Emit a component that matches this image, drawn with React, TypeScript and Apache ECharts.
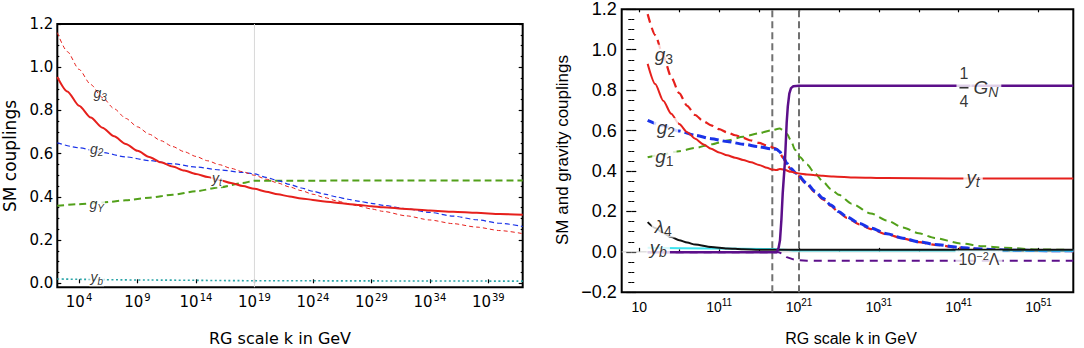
import React, { useEffect, useRef } from 'react';
import * as echarts from 'echarts';

// x values are log10(k / GeV)
// ---------- left panel ----------
const LEFT_X_TICKS = [4, 9, 14, 19, 24, 29, 34, 39];
const LEFT_Y_TICKS = [0, 0.2, 0.4, 0.6, 0.8, 1.0, 1.2];
const LEFT_Y_MINOR = [0.05, 0.1, 0.15, 0.25, 0.3, 0.35, 0.45, 0.5, 0.55, 0.65, 0.7, 0.75, 0.85, 0.9, 0.95, 1.05, 1.1, 1.15];
const LEFT_PLANCK: [number, number][] = [[19, -0.0185], [19, 1.2]];

const LEFT_G3: [number, number][] = [
  [2.14, 1.16], [3, 1.072], [4, 0.99], [5, 0.92], [6, 0.86], [7, 0.808], [8, 0.763], [9, 0.724],
  [10, 0.69], [11, 0.66], [12, 0.633], [13, 0.609], [14, 0.587], [15, 0.567], [16, 0.549], [17, 0.532],
  [18, 0.516], [19, 0.5], [20, 0.482], [21, 0.464], [22, 0.446], [23, 0.429], [24, 0.412], [25, 0.397],
  [26, 0.382], [27, 0.369], [28, 0.356], [29, 0.344], [30, 0.333], [32, 0.312], [34, 0.293], [36, 0.276],
  [38, 0.26], [40, 0.244], [41.94, 0.23],
];
const LEFT_YT: [number, number][] = [
  [2.14, 0.955], [3, 0.888], [4, 0.822], [5, 0.767], [6, 0.72], [7, 0.68], [8, 0.645], [9, 0.613],
  [10, 0.585], [11, 0.56], [12, 0.54], [13, 0.522], [14, 0.506], [15, 0.492], [16, 0.478], [17, 0.464],
  [18, 0.45], [19, 0.437], [20, 0.424], [21, 0.412], [22, 0.402], [23, 0.393], [24, 0.386], [25, 0.379],
  [26, 0.373], [27, 0.367], [28, 0.362], [29, 0.357], [30, 0.352], [32, 0.344], [34, 0.337], [36, 0.331],
  [38, 0.326], [40, 0.321], [41.94, 0.317],
];
const LEFT_G2: [number, number][] = [
  [2.14, 0.65], [4, 0.627], [6, 0.605], [8, 0.585], [10, 0.568], [12, 0.553], [14, 0.538], [16, 0.525],
  [18, 0.513], [19, 0.506], [20, 0.49], [21, 0.475], [22, 0.458], [23, 0.441], [24, 0.426], [25, 0.413],
  [26, 0.4], [27, 0.389], [28, 0.379], [29, 0.37], [30, 0.361], [32, 0.345], [34, 0.328], [36, 0.311],
  [38, 0.294], [40, 0.278], [41.94, 0.263],
];
const LEFT_GY: [number, number][] = [
  [2.14, 0.359], [4, 0.366], [6, 0.374], [8, 0.384], [10, 0.396], [12, 0.41], [14, 0.426], [16, 0.444],
  [18, 0.464], [19, 0.475], [41.94, 0.476],
];
const LEFT_YB: [number, number][] = [[2.14, 0.02], [10, 0.015], [19, 0.012], [30, 0.011], [41.94, 0.01]];

// ---------- right panel ----------
const RIGHT_X_TICKS = [1, 11, 21, 31, 41, 51];
const RIGHT_X_MINOR = [6, 16, 26, 36, 46];
const RIGHT_VLINE_A: [number, number][] = [[17.66, -0.2], [17.66, 1.2]];
const RIGHT_VLINE_B: [number, number][] = [[21, -0.2], [21, 1.2]];
const RIGHT_ZERO: [number, number][] = [[-1.2, 0], [55.35, 0]];

const RIGHT_G3: [number, number][] = [
  [2.05, 1.176], [3, 1.072], [4, 0.97], [5, 0.865], [6, 0.785], [7, 0.722], [8, 0.677], [9, 0.647],
  [10, 0.626], [11, 0.607], [12, 0.591], [13, 0.577], [14, 0.564], [15, 0.551], [16, 0.539], [17, 0.526],
  [18, 0.513], [18.5, 0.5], [19, 0.465], [19.5, 0.432], [20, 0.407], [20.7, 0.382], [22, 0.333], [23, 0.295],
  [24, 0.26], [25, 0.227], [26, 0.194], [27, 0.168], [28.6, 0.136], [30, 0.113], [32, 0.087], [34, 0.066],
  [36, 0.048], [38, 0.035], [41.2, 0.02], [43, 0.015], [45.3, 0.01], [48, 0.007], [52, 0.005], [55.35, 0.004],
];
const RIGHT_G2: [number, number][] = [
  [2.05, 0.651], [4, 0.624], [6, 0.598], [8, 0.577], [10, 0.56], [12, 0.546], [14, 0.533], [16, 0.52],
  [17.5, 0.51], [18.2, 0.508], [18.6, 0.495], [19, 0.47], [19.5, 0.437], [20, 0.412], [20.7, 0.387], [22, 0.338],
  [23, 0.3], [24, 0.265], [25, 0.232], [26, 0.198], [27, 0.172], [28.6, 0.14], [30, 0.117], [32, 0.09],
  [34, 0.068], [36, 0.05], [38, 0.037], [41.2, 0.022], [43, 0.016], [45.3, 0.011], [48, 0.008], [52, 0.006],
  [55.35, 0.005],
];
const RIGHT_G1: [number, number][] = [
  [2.05, 0.468], [4, 0.483], [6, 0.498], [8, 0.514], [10, 0.532], [12, 0.551], [14, 0.569], [16, 0.587],
  [17.5, 0.601], [18.6, 0.61], [19, 0.603], [19.5, 0.583], [20, 0.55], [20.5, 0.505], [21.1, 0.469], [22, 0.432],
  [23, 0.388], [24, 0.348], [25, 0.31], [26, 0.282], [27.6, 0.238], [30, 0.19], [32, 0.155],
  [34, 0.121], [36, 0.092], [38, 0.069], [41.2, 0.042], [44, 0.028], [46.6, 0.021], [50.8, 0.012], [55.35, 0.009],
];
const RIGHT_YT: [number, number][] = [
  [2.05, 0.93], [3, 0.83], [4, 0.748], [5, 0.683], [6, 0.632], [7, 0.592], [8, 0.56], [9, 0.533],
  [10, 0.51], [11, 0.492], [12, 0.478], [13, 0.466], [14, 0.455], [15, 0.443], [16, 0.43], [17, 0.416],
  [17.6, 0.407], [18.2, 0.405], [18.6, 0.41], [19.1, 0.407], [20, 0.396], [21, 0.388], [22, 0.383], [23, 0.379],
  [24, 0.376], [25.3, 0.373], [28, 0.368], [32, 0.365], [40, 0.363], [55.35, 0.363],
];
const RIGHT_L4: [number, number][] = [
  [2.05, 0.147], [3, 0.118], [4, 0.093], [5, 0.073], [6, 0.058], [7, 0.046], [8, 0.036], [10, 0.024],
  [12, 0.017], [14, 0.013], [16, 0.011], [18, 0.01], [55.35, 0.01],
];
const RIGHT_YB: [number, number][] = [[2.05, 0.02], [10, 0.017], [18, 0.014], [19, 0.01], [21, 0.007], [55.35, 0.006]];
const RIGHT_GN: [number, number][] = [
  [2.05, -0.002], [18.2, -0.002], [18.45, 0.02], [18.62, 0.057], [18.8, 0.16], [18.96, 0.288], [19.25, 0.453],
  [19.46, 0.64], [19.6, 0.72], [19.79, 0.783], [20, 0.81], [20.29, 0.819], [21, 0.822], [55.35, 0.822],
];
const RIGHT_LAMBDA: [number, number][] = [
  [2.05, -0.002], [18.5, -0.002], [19, -0.012], [19.46, -0.026], [20.29, -0.037], [21.1, -0.042], [22, -0.044],
  [55.35, -0.044],
];

// curve labels (data coordinates)
const LEFT_LABELS = [
  { x: 5.8, y: 0.875, text: '{i|g}{s|3}', bg: false },
  { x: 5.51, y: 0.617, text: '{i|g}{s|2}', bg: true },
  { x: 5.51, y: 0.362, text: '{i|g}{s|Y}', bg: true },
  { x: 5.51, y: 0.023, text: '{i|y}{s|b}', bg: true },
  { x: 15.78, y: 0.482, text: '{i|y}{s|t}', bg: true },
];
const RIGHT_LABELS = [
  { x: 4.09, y: 0.973, text: '{i|g}{s|3}' },
  { x: 4.34, y: 0.61, text: '{i|g}{s|2}' },
  { x: 4.15, y: 0.468, text: '{i|g}{s|1}' },
  { x: 4.0, y: 0.123, text: '{i|λ}{s|4}' },
  { x: 3.38, y: 0.016, text: '{i|y}{si|b}' },
  { x: 42.8, y: 0.362, text: '{i|y}{si|t}' },
  { x: 41.66, y: 0.812, text: '{f|1}\n{bar| }\n{f|4}' },
  { x: 44.4, y: 0.809, text: '{i|G}{si|N}' },
  { x: 43.54, y: -0.04, text: '{n|10}{sup|−2}{n|Λ}' },
];

const LX = { min: 2.14, max: 41.94 };
const LY = { min: -0.0185, max: 1.2 };
const RX = { min: -1.2, max: 55.35 };
const RY = { min: -0.2, max: 1.2 };

const SANS = 'Liberation Sans';
const DJV = 'DejaVu Sans';

function tickOnly(grid: number, pos: string, range: any, values: number[], len: number) {
  return {
    type: 'value', gridIndex: grid, position: pos, ...range,
    axisLine: { show: false }, splitLine: { show: false },
    axisLabel: { show: false },
    axisTick: { show: true, inside: true, length: len, customValues: values, lineStyle: { color: '#000', width: 1.2 } },
  };
}

function line(data: [number, number][], xi: number, yi: number, color: string, width: number, type: any, z = 2, smooth: any = 0.25) {
  return {
    type: 'line', data, xAxisIndex: xi, yAxisIndex: yi, showSymbol: false, symbol: 'none', smooth,
    smoothMonotone: 'x',
    lineStyle: { color, width, type, cap: 'butt' }, z, silent: true, animation: false,
  };
}

export default function App() {
  const ref = useRef<HTMLDivElement>(null);
  useEffect(() => {
    const chart = echarts.init(ref.current!, null, { renderer: 'svg' });
    const RED = '#e6201c';
    const BLUE = '#1a33e8';
    const GREEN = '#52a01a';
    const PURPLE = '#5c0f8a';

    const leftRich = {
      i: { fontFamily: SANS, fontStyle: 'italic', fontSize: 14, lineHeight: 16, verticalAlign: 'top', color: '#000' },
      s: { fontFamily: SANS, fontStyle: 'italic', fontSize: 10, lineHeight: 11, padding: [7, 0, 0, 0], verticalAlign: 'bottom', color: '#000' },
    };
    const rightRich = {
      i: { fontFamily: SANS, fontStyle: 'italic', fontSize: 19, lineHeight: 21, verticalAlign: 'top', color: '#000' },
      s: { fontFamily: SANS, fontSize: 14, lineHeight: 15, padding: [10, 0, 0, 0], verticalAlign: 'bottom', color: '#000' },
      si: { fontFamily: SANS, fontStyle: 'italic', fontSize: 14, lineHeight: 15, padding: [10, 0, 0, 0], verticalAlign: 'bottom', color: '#000' },
      f: { fontFamily: SANS, fontSize: 16, lineHeight: 18, color: '#000', align: 'center' },
      bar: { fontSize: 1, width: 9, height: 1.6, lineHeight: 10, backgroundColor: '#000', align: 'center' },
      n: { fontFamily: SANS, fontSize: 16, lineHeight: 19, color: '#000' },
      sup: { fontFamily: SANS, fontSize: 11, lineHeight: 11, verticalAlign: 'top', color: '#000' },
    };

    const option: any = {
      animation: false,
      grid: [
        { left: 57.3, top: 24, width: 465.4, height: 263.3, show: true, borderColor: '#000', borderWidth: 2, backgroundColor: 'transparent' },
        { left: 621.7, top: 9.3, width: 451.6, height: 283, show: true, borderColor: '#000', borderWidth: 2, backgroundColor: 'transparent' },
      ],
      xAxis: [
        {
          type: 'value', gridIndex: 0, position: 'bottom', ...LX,
          axisLine: { show: false }, splitLine: { show: false },
          axisTick: { show: true, inside: true, length: 4, customValues: LEFT_X_TICKS, lineStyle: { color: '#000', width: 1.2 } },
          axisLabel: {
            customValues: LEFT_X_TICKS, margin: 5,
            formatter: (v: number) => `{b|10}{s|${Math.round(v)}}`,
            rich: {
              b: { fontFamily: DJV, fontSize: 15, lineHeight: 19, color: '#000' },
              s: { fontFamily: DJV, fontSize: 10, lineHeight: 11, verticalAlign: 'top', color: '#000', padding: [0, 0, 0, 1] },
            },
          },
        },
        {
          type: 'value', gridIndex: 1, position: 'bottom', ...RX,
          axisLine: { show: false }, splitLine: { show: false },
          axisTick: { show: true, inside: true, length: 4, customValues: RIGHT_X_TICKS, lineStyle: { color: '#000', width: 1.2 } },
          axisLabel: {
            customValues: RIGHT_X_TICKS, margin: 5,
            formatter: (v: number) => (Math.round(v) === 1 ? '{b|10}' : `{b|10}{s|${Math.round(v)}}`),
            rich: {
              b: { fontFamily: SANS, fontSize: 14, lineHeight: 19, color: '#000' },
              s: { fontFamily: SANS, fontSize: 10, lineHeight: 11, verticalAlign: 'top', color: '#000' },
            },
          },
        },
        tickOnly(1, 'bottom', RX, RIGHT_X_MINOR, 2.5),
        tickOnly(1, 'top', RX, [...RIGHT_X_TICKS, ...RIGHT_X_MINOR], 3),
      ],
      yAxis: [
        {
          type: 'value', gridIndex: 0, position: 'left', ...LY,
          axisLine: { show: false }, splitLine: { show: false },
          axisTick: { show: true, inside: true, length: 4, customValues: LEFT_Y_TICKS, lineStyle: { color: '#000', width: 1.2 } },
          axisLabel: {
            customValues: LEFT_Y_TICKS, margin: 4,
            formatter: (v: number) => v.toFixed(1),
            fontFamily: DJV, fontSize: 15, color: '#000',
          },
        },
        tickOnly(0, 'left', LY, LEFT_Y_MINOR, 2),
        tickOnly(0, 'right', LY, LEFT_Y_TICKS, 4),
        tickOnly(0, 'right', LY, LEFT_Y_MINOR, 2),
        {
          type: 'value', gridIndex: 1, position: 'left', ...RY, interval: 0.2,
          axisLine: { show: false }, splitLine: { show: false },
          axisTick: { show: true, inside: true, length: 5, lineStyle: { color: '#000', width: 1.2 } },
          minorTick: { show: true, splitNumber: 4, length: 3, lineStyle: { color: '#000', width: 1 } },
          axisLabel: {
            margin: 5,
            formatter: (v: number) => v.toFixed(1).replace('-', '−'),
            fontFamily: SANS, fontSize: 18, color: '#000',
          },
        },
        {
          type: 'value', gridIndex: 1, position: 'right', ...RY, interval: 0.2,
          axisLine: { show: false }, splitLine: { show: false },
          axisTick: { show: true, inside: true, length: 5, lineStyle: { color: '#000', width: 1.2 } },
          minorTick: { show: true, splitNumber: 4, length: 3, lineStyle: { color: '#000', width: 1 } },
          axisLabel: { show: false },
        },
      ],
      series: [
        // left panel
        line(LEFT_PLANCK, 0, 0, '#d8d8d8', 1, 'solid', 1, false),
        line(LEFT_YB, 0, 0, '#2aa5a8', 1.6, [2, 2.5]),
        line(LEFT_GY, 0, 0, GREEN, 2, [7, 4]),
        line(LEFT_G2, 0, 0, BLUE, 1.2, [5, 3]),
        line(LEFT_G3, 0, 0, RED, 1, [4, 3]),
        line(LEFT_YT, 0, 0, RED, 2, 'solid'),
        {
          type: 'scatter', xAxisIndex: 0, yAxisIndex: 0, symbolSize: 1, itemStyle: { color: 'rgba(0,0,0,0)' }, z: 10, silent: true,
          data: LEFT_LABELS.map((l) => ({
            value: [l.x, l.y],
            label: {
              show: true, position: 'inside', formatter: l.text, rich: leftRich, color: '#000',
              backgroundColor: l.bg ? '#fff' : 'transparent', padding: [0, 1],
            },
          })),
        },
        // right panel
        line(RIGHT_ZERO, 1, 4, '#cfcfcf', 1, 'solid', 1, false),
        line(RIGHT_VLINE_A, 1, 4, '#707070', 2, [7, 4], 1, false),
        line(RIGHT_VLINE_B, 1, 4, '#707070', 2, [7, 4], 1, false),
        line(RIGHT_G1, 1, 4, GREEN, 2, [8, 5]),
        line(RIGHT_G3, 1, 4, RED, 2.2, [9, 5]),
        line(RIGHT_G2, 1, 4, BLUE, 3, [9, 4]),
        line(RIGHT_YT, 1, 4, RED, 2, 'solid'),
        line(RIGHT_YB, 1, 4, '#3de3ee', 2, 'solid'),
        line(RIGHT_L4, 1, 4, '#111', 2, 'solid'),
        line(RIGHT_LAMBDA, 1, 4, PURPLE, 2, [8, 6], 2, false),
        line(RIGHT_GN, 1, 4, PURPLE, 2.5, 'solid', 3, false),
        {
          type: 'scatter', xAxisIndex: 1, yAxisIndex: 4, symbolSize: 1, itemStyle: { color: 'rgba(0,0,0,0)' }, z: 10, silent: true,
          data: RIGHT_LABELS.map((l) => ({
            value: [l.x, l.y],
            label: {
              show: true, position: 'inside', formatter: l.text, rich: rightRich, color: '#000',
              backgroundColor: '#fff', padding: [0, 3],
            },
          })),
        },
      ],
      graphic: [
        { type: 'text', x: 280, y: 338, style: { text: 'RG scale k in GeV', font: `16px "${DJV}"`, fill: '#000', align: 'center', verticalAlign: 'middle', textAlign: 'center', textVerticalAlign: 'middle' } },
        { type: 'text', x: 851, y: 338, style: { text: 'RG scale k in GeV', font: `16px "${SANS}"`, fill: '#000', align: 'center', verticalAlign: 'middle', textAlign: 'center', textVerticalAlign: 'middle' } },
        { type: 'text', x: 10, y: 156, rotation: Math.PI / 2, style: { text: 'SM couplings', font: `17px "${DJV}"`, fill: '#000', align: 'center', verticalAlign: 'middle', textAlign: 'center', textVerticalAlign: 'middle' } },
        { type: 'text', x: 562, y: 150, rotation: Math.PI / 2, style: { text: 'SM and gravity couplings', font: `17px "${SANS}"`, fill: '#000', align: 'center', verticalAlign: 'middle', textAlign: 'center', textVerticalAlign: 'middle' } },
      ],
    };
    chart.setOption(option);
    return () => chart.dispose();
  }, []);
  return <div ref={ref} style={{ position: 'fixed', left: 0, top: 0, width: 1084, height: 348, background: '#fff' }} />;
}
